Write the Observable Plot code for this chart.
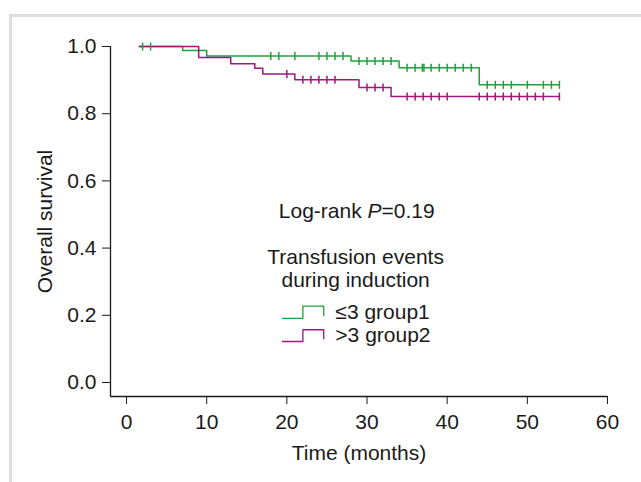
<!DOCTYPE html>
<html>
<head>
<meta charset="utf-8">
<script src="https://cdn.jsdelivr.net/npm/d3@7"></script>
<script src="https://cdn.jsdelivr.net/npm/@observablehq/plot@0.6"></script>
<style>
  html, body { margin: 0; padding: 0; background: #fff; }
  #wrap { position: relative; width: 641px; height: 482px; overflow: hidden; }
  #frame { position: absolute; left: 9px; top: 14px; width: 700px; height: 520px;
           border-top: 3px solid #dedede; border-left: 3px solid #dedede; box-sizing: border-box; }
  #chart { position: absolute; left: 0; top: 0; }
</style>
</head>
<body>
<div id="wrap"><div id="frame"></div><div id="chart"></div></div>
<script>
// ---- data ----
const xTicks = [0, 10, 20, 30, 40, 50, 60];
const yTicks = [0, 0.2, 0.4, 0.6, 0.8, 1.0];

const groups = ["≤3 group1", ">3 group2"];
const colors = ["#20a03c", "#a3147f"];

// step change times (first = start, last = end of follow-up) and survival after each
const g1Times = [1.6, 7, 10, 28, 34, 44, 54];
const g1Surv  = [1.0, 0.988, 0.972, 0.957, 0.937, 0.886, 0.886];
const g1Censor = [2, 3, 18, 19, 21, 24, 25, 26, 27, 29, 30, 31, 32, 33,
                  35, 36, 36.9, 37.1, 38, 39, 40, 41, 42, 43,
                  45, 46, 47, 48, 50, 52, 53, 54];

const g2Times = [1.6, 9, 13, 16, 17, 21, 29, 33, 54];
const g2Surv  = [1.0, 0.967, 0.949, 0.935, 0.918, 0.901, 0.878, 0.851, 0.851];
const g2Censor = [20, 22, 23, 24, 25, 26, 30, 31, 32,
                  35, 36, 37, 38, 39, 40,
                  44, 45, 46, 47, 48, 49, 50, 51, 52, 54];

const annotation = "Log-rank P=0.19";
const legendTitle = "Transfusion events\nduring induction";

// ---- build tables ----
function survAt(times, surv, t) {
  let s = surv[0];
  for (let i = 0; i < times.length; i++) if (times[i] <= t) s = surv[i];
  return s;
}
const curves = [];
g1Times.forEach((t, i) => curves.push({group: groups[0], t, s: g1Surv[i]}));
g2Times.forEach((t, i) => curves.push({group: groups[1], t, s: g2Surv[i]}));
const censors = [];
g1Censor.forEach(t => censors.push({group: groups[0], t, s: survAt(g1Times, g1Surv, t)}));
g2Censor.forEach(t => censors.push({group: groups[1], t, s: survAt(g2Times, g2Surv, t)}));

// legend symbols (step glyph) in data space
const legX = [19.45, 22.0, 24.6], legTextX = 26.05;
const legY = [{bottom: 0.191, top: 0.227}, {bottom: 0.122, top: 0.157}];
const legendLines = [];
groups.forEach((g, i) => {
  const b = legY[i].bottom, tp = legY[i].top;
  [[legX[0], b], [legX[1], b], [legX[1], tp], [legX[2], tp], [legX[2], b + 0.008]]
    .forEach(([x, y]) => legendLines.push({group: g, x, y}));
});
const legendText = groups.map((g, i) => ({group: g, x: legTextX, y: (legY[i].bottom + legY[i].top) / 2}));

const vbar = { draw(ctx, size) { const r = Math.sqrt(size / Math.PI); ctx.moveTo(0, -r); ctx.lineTo(0, r); } };
const yMin = -0.0417, xMin = -2;
const FS = 21;

const plot = Plot.plot({
  width: 641, height: 482,
  marginLeft: 110, marginRight: 34, marginTop: 46, marginBottom: 86,
  x: {domain: [xMin, 60]},
  y: {domain: [yMin, 1]},
  color: {domain: groups, range: colors},
  style: {fontFamily: "'Liberation Sans', Arial, sans-serif", fontSize: FS + "px", color: "#1a1a1a", background: "transparent"},
  marks: [
    Plot.axisX({ticks: xTicks, tickSize: 8, tickPadding: 10, tickFormat: d => d, fontSize: FS,
                label: "Time (months)", labelAnchor: "center", labelArrow: "none", labelOffset: 63}),
    Plot.axisY({ticks: yTicks, tickSize: 8, tickPadding: 6, tickFormat: d3.format(".1f"), fontSize: FS,
                label: "Overall survival", labelAnchor: "center", labelArrow: "none", labelOffset: 73}),
    Plot.ruleX([xMin], {y1: yMin, y2: 1, stroke: "#1a1a1a", strokeWidth: 1.3}),
    Plot.ruleY([yMin], {x1: xMin, x2: 60, stroke: "#1a1a1a", strokeWidth: 1.3}),
    Plot.line(curves, {x: "t", y: "s", z: "group", stroke: "group", curve: "step-after", strokeWidth: 1.5}),
    Plot.dot(censors, {x: "t", y: "s", stroke: "group", symbol: vbar, r: 4, fill: "none", strokeWidth: 1.5}),
    Plot.text([annotation], {x: 28.72, y: 0.509, text: d => d, fontSize: FS, fill: "#1a1a1a"}),
    Plot.text([legendTitle], {x: 28.58, y: 0.341, text: d => d, fontSize: FS, lineHeight: 1.1, fill: "#1a1a1a"}),
    Plot.line(legendLines, {x: "x", y: "y", z: "group", stroke: "group", strokeWidth: 1.3}),
    Plot.text(legendText, {x: "x", y: "y", text: "group", textAnchor: "start", fontSize: FS, fill: "#1a1a1a"})
  ]
});

// italic P in the annotation
d3.select(plot).selectAll("text").each(function() {
  if (this.textContent === annotation) {
    const t = d3.select(this);
    t.text(null);
    t.append("tspan").text("Log-rank ");
    t.append("tspan").attr("font-style", "italic").text("P");
    t.append("tspan").text("=0.19");
  }
});

document.getElementById("chart").appendChild(plot);
</script>
</body>
</html>
